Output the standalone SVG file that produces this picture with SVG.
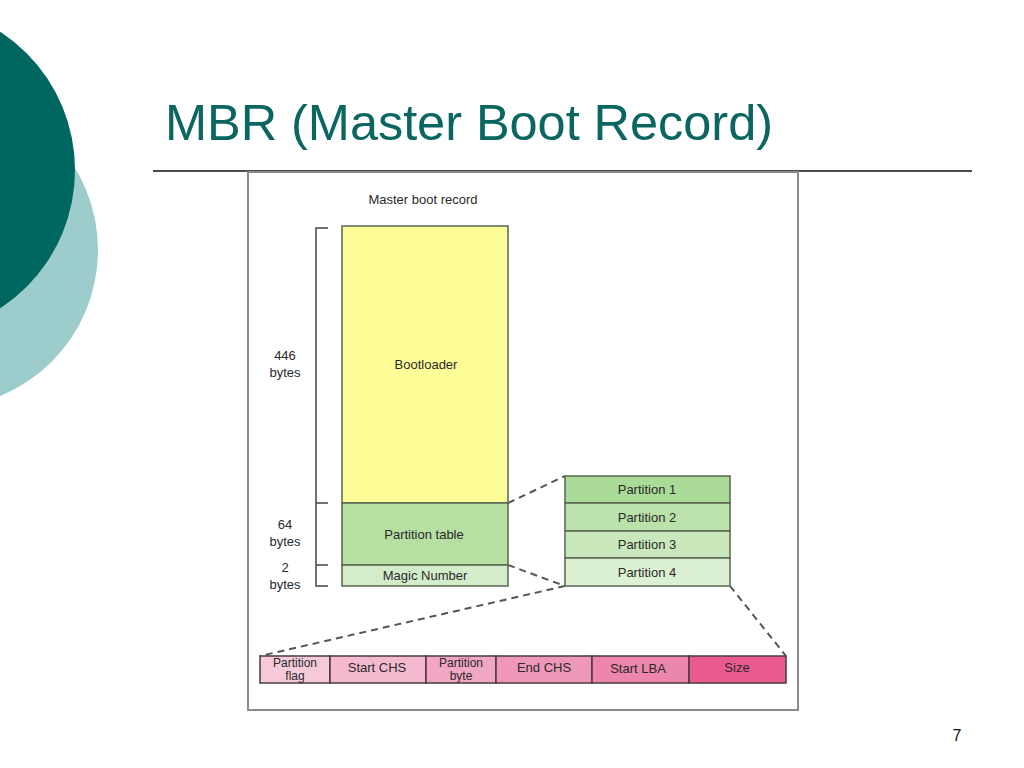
<svg xmlns="http://www.w3.org/2000/svg" width="1024" height="768" viewBox="0 0 1024 768">
<defs>
<style>
.t{font-family:"Liberation Sans",Arial,sans-serif;font-size:13px;fill:#2a2a2a;text-anchor:middle}
.s{font-size:12px}
.box{stroke:#5a6650;stroke-width:1.5}
.pk{stroke:#4a3a40;stroke-width:1.5}
.dash{stroke:#555;stroke-width:2;stroke-dasharray:7,5;fill:none}
.br{stroke:#444;stroke-width:1.5;fill:none}
</style>
</defs>
<rect width="1024" height="768" fill="#ffffff"/>
<circle cx="-60" cy="250" r="158" fill="#9ccccc"/>
<circle cx="-90" cy="170" r="165" fill="#006660"/>
<text x="165" y="140" font-family="Liberation Sans,Arial,sans-serif" font-size="50.5" fill="#0b6660" textLength="608" lengthAdjust="spacing">MBR (Master Boot Record)</text>
<line x1="153" y1="171" x2="972" y2="171" stroke="#111" stroke-width="1.5"/>
<rect x="248" y="172" width="550" height="538" fill="#fff" stroke="#8a8a8a" stroke-width="2"/>
<text class="t" x="423" y="204">Master boot record</text>
<g id="brackets">
<path class="br" d="M328,228 H316 V586 H328 M316,503 H328 M316,565 H328"/>
<text class="t" x="285" y="360">446</text><text class="t" x="285" y="377">bytes</text>
<text class="t" x="285" y="529">64</text><text class="t" x="285" y="546">bytes</text>
<text class="t" x="285" y="572">2</text><text class="t" x="285" y="589">bytes</text>
</g>
<g id="connectors">
<line class="dash" x1="508" y1="503" x2="565" y2="476"/>
<line class="dash" x1="508" y1="565" x2="565" y2="586"/>
<line class="dash" x1="565" y1="586" x2="260" y2="656"/>
<line class="dash" x1="730" y1="586" x2="786" y2="656"/>
</g>
<g id="bootloader"><rect class="box" x="342" y="226" width="166" height="277" fill="#fdfd98"/><text class="t" x="426" y="369">Bootloader</text></g>
<g id="partition-table"><rect class="box" x="342" y="503" width="166" height="62" fill="#b6dfa2"/><text class="t" x="424" y="539">Partition table</text></g>
<g id="magic-number"><rect class="box" x="342" y="565" width="166" height="21" fill="#d3ecca"/><text class="t" x="425" y="580">Magic Number</text></g>
<g id="partition-1"><rect class="box" x="565" y="476" width="165" height="27" fill="#aadb98"/><text class="t" x="647" y="494">Partition 1</text></g>
<g id="partition-2"><rect class="box" x="565" y="503" width="165" height="28" fill="#bae2aa"/><text class="t" x="647" y="522">Partition 2</text></g>
<g id="partition-3"><rect class="box" x="565" y="531" width="165" height="27" fill="#c9e8bb"/><text class="t" x="647" y="549">Partition 3</text></g>
<g id="partition-4"><rect class="box" x="565" y="558" width="165" height="28" fill="#dcf0d3"/><text class="t" x="647" y="577">Partition 4</text></g>
<g id="partition-flag"><rect class="pk" x="260" y="656" width="70" height="27" fill="#f6cad9"/><text class="t s" x="295" y="667">Partition</text><text class="t s" x="295" y="679.5">flag</text></g>
<g id="start-chs"><rect class="pk" x="330" y="656" width="96" height="27" fill="#f4b9cf"/><text class="t" x="377" y="672">Start CHS</text></g>
<g id="partition-byte"><rect class="pk" x="426" y="656" width="70" height="27" fill="#f1a6c3"/><text class="t s" x="461" y="667">Partition</text><text class="t s" x="461" y="679.5">byte</text></g>
<g id="end-chs"><rect class="pk" x="496" y="656" width="96" height="27" fill="#ef97b8"/><text class="t" x="544" y="672">End CHS</text></g>
<g id="start-lba"><rect class="pk" x="592" y="656" width="97" height="27" fill="#ec86ac"/><text class="t" x="638" y="673">Start LBA</text></g>
<g id="size"><rect class="pk" x="689" y="656" width="97" height="27" fill="#ea5a91"/><text class="t" x="737" y="672">Size</text></g>
<text x="957" y="741" font-family="Liberation Sans,Arial,sans-serif" font-size="16" fill="#111" text-anchor="middle">7</text>
</svg>
